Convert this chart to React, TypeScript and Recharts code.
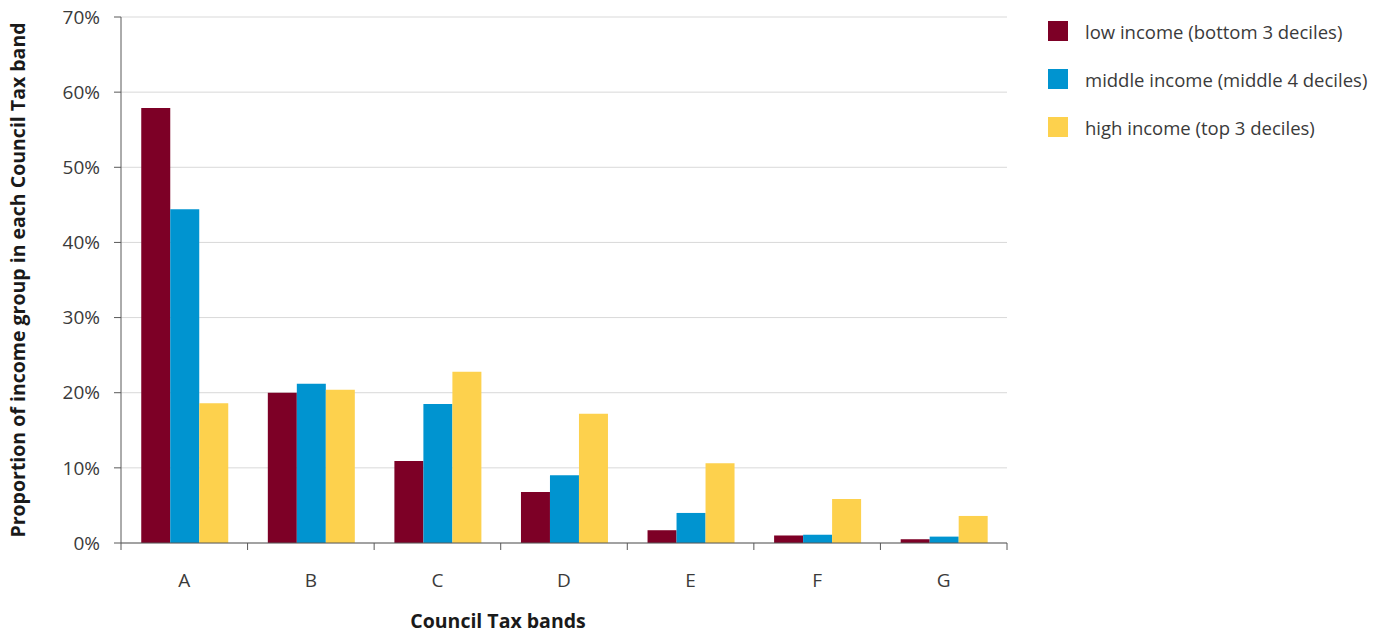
import { BarChart, Bar, XAxis, YAxis, CartesianGrid, Legend } from 'recharts'

const bands = ['A', 'B', 'C', 'D', 'E', 'F', 'G']
const lowIncome = [57.9, 20.0, 10.9, 6.8, 1.7, 1.0, 0.5]
const middleIncome = [44.4, 21.2, 18.5, 9.0, 4.0, 1.1, 0.85]
const highIncome = [18.6, 20.4, 22.8, 17.2, 10.6, 5.85, 3.6]
const yTicks = [0, 10, 20, 30, 40, 50, 60, 70]

const seriesNames = [
  'low income (bottom 3 deciles)',
  'middle income (middle 4 deciles)',
  'high income (top 3 deciles)',
]

const data = bands.map((band, i) => ({
  band,
  low: lowIncome[i],
  middle: middleIncome[i],
  high: highIncome[i],
}))

const axisColor = '#595959'
const gridColor = '#d9d9d9'
const textColor = '#3a3a3a'
const labelColor = '#1a1a1a'
const tickSize = 7
const xTickMargin = 24

// category label in the middle, tick marks on the band edges
const BandTick = (props: any) => {
  const { x, y, payload, index, visibleTicksCount } = props
  const half = payload?.offset ?? 0
  const axisY = y - xTickMargin - tickSize
  const isLast = index === visibleTicksCount - 1
  return (
    <g>
      <line x1={x - half} x2={x - half} y1={axisY} y2={axisY + tickSize} stroke={axisColor} />
      {isLast && (
        <line x1={x + half} x2={x + half} y1={axisY} y2={axisY + tickSize} stroke={axisColor} />
      )}
      <text x={x} y={y} dy="0.71em" textAnchor="middle" fill={textColor} fontSize={19}>
        {payload.value}
      </text>
    </g>
  )
}

const renderLegend = (props: any) => {
  const items = [...(props.payload || [])].sort(
    (a: any, b: any) => seriesNames.indexOf(a.value) - seriesNames.indexOf(b.value),
  )
  return (
    <div>
      {items.map((item: any) => (
        <div
          key={item.value}
          style={{ display: 'flex', alignItems: 'center', height: 20, marginBottom: 28 }}
        >
          <span style={{ width: 20, height: 20, background: item.color, display: 'inline-block' }} />
          <span style={{ marginLeft: 17, fontSize: 18.5, color: textColor, whiteSpace: 'nowrap' }}>
            {item.value}
          </span>
        </div>
      ))}
    </div>
  )
}

export default function App() {
  return (
    <div style={{ position: 'absolute', left: 0, top: 0, fontFamily: '"Open Sans", sans-serif' }}>
      <BarChart
        width={1383}
        height={635}
        data={data}
        margin={{ top: 17, right: 376, bottom: 0, left: 0 }}
        barGap={0}
        barCategoryGap="16%"
      >
        <CartesianGrid vertical={false} stroke={gridColor} />
        <XAxis
          dataKey="band"
          height={92}
          axisLine={{ stroke: axisColor }}
          tickLine={false}
          tickSize={tickSize}
          tickMargin={xTickMargin}
          tick={<BandTick />}
          label={{
            value: 'Council Tax bands',
            position: 'insideBottom',
            offset: 7,
            dx: -66,
            style: { fontWeight: 700, fontSize: 19.5, fill: labelColor },
          }}
        />
        <YAxis
          domain={[0, 70]}
          ticks={yTicks}
          width={121}
          tickSize={tickSize}
          tickMargin={14}
          tickFormatter={(v: number) => `${v}%`}
          tick={{ fill: textColor, fontSize: 19 }}
          axisLine={{ stroke: axisColor }}
          tickLine={{ stroke: axisColor }}
          label={{
            value: 'Proportion of income group in each Council Tax band',
            angle: -90,
            position: 'insideLeft',
            offset: 18,
            style: { textAnchor: 'middle', fontWeight: 700, fontSize: 19.5, fill: labelColor },
          }}
        />
        <YAxis
          yAxisId="r"
          orientation="right"
          domain={[0, 70]}
          width={0}
          tick={false}
          tickLine={false}
          axisLine={{ stroke: gridColor }}
        />
        <Bar dataKey="low" name={seriesNames[0]} fill="#7d0026" isAnimationActive={false} />
        <Bar dataKey="middle" name={seriesNames[1]} fill="#0094d0" isAnimationActive={false} />
        <Bar dataKey="high" name={seriesNames[2]} fill="#fdd14d" isAnimationActive={false} />
        <Legend
          layout="vertical"
          align="center"
          verticalAlign="middle"
          wrapperStyle={{ left: 1048, top: 21, width: 335, height: 140 }}
          content={renderLegend}
        />
      </BarChart>
    </div>
  )
}
